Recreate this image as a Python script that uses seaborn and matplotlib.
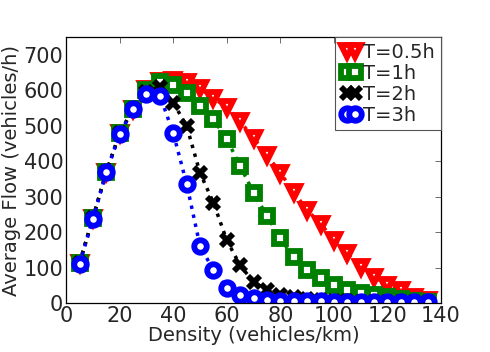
import numpy as np
import pandas as pd
import matplotlib
matplotlib.use("Agg")
import matplotlib.pyplot as plt
import seaborn as sns

# ---- data ----
density = [5, 10, 15, 20, 25, 30, 35, 40, 45, 50, 55, 60, 65, 70,
           75, 80, 85, 90, 95, 100, 105, 110, 115, 120, 125, 130, 135]

flow_05h = [113, 240, 370, 478, 548, 602, 625, 630, 622, 605, 577, 552, 512, 465,
            418, 367, 313, 262, 224, 178, 140, 103, 74, 50, 36, 18, 8]
flow_1h = [113, 240, 370, 478, 548, 600, 622, 615, 591, 555, 518, 462, 386, 311,
           246, 182, 129, 93, 70, 50, 37, 28, 22, 16, 11, 7, 4]
flow_2h = [113, 240, 370, 478, 547, 595, 610, 565, 499, 367, 283, 177, 106, 59,
           37, 24, 16, 11, 8, 6, 5, 4, 4, 3, 3, 3, 3]
flow_3h = [110, 237, 368, 477, 546, 590, 585, 479, 336, 161, 93, 43, 24, 15,
           10, 7, 6, 5, 5, 4, 4, 4, 4, 3, 3, 3, 3]

labels = ["T=0.5h", "T=1h", "T=2h", "T=3h"]
colors = ["red", "green", "black", "blue"]
markers = ["v", "s", "x", "o"]

df = pd.DataFrame({
    "density": density * 4,
    "flow": flow_05h + flow_1h + flow_2h + flow_3h,
    "series": sum([[lab] * len(density) for lab in labels], []),
})

sns.set_style("white")
plt.rcParams["font.family"] = ["DejaVu Sans"]

fig = plt.figure(figsize=(4.9, 3.52), dpi=100)
ax = fig.add_axes([0.135, 0.139, 0.765, 0.756])

for lab, col, mk in zip(labels, colors, markers):
    sub = df[df["series"] == lab]
    face = col if mk == "x" else "white"
    sns.lineplot(data=sub, x="density", y="flow", ax=ax, color=col,
                 linestyle=":", linewidth=2.5, marker=mk, markersize=9,
                 markeredgewidth=4.2, markerfacecolor=face,
                 markeredgecolor=col, label=lab)

ax.set_xlim(0, 140)
ax.set_ylim(0, 750)
ax.set_xticks(range(0, 141, 20))
ax.set_yticks(range(0, 701, 100))
ax.tick_params(direction="in", top=True, right=True, labelsize=15,
               length=4, width=0.6, color="#555555", pad=2)
for sp in ax.spines.values():
    sp.set_color("black")
    sp.set_linewidth(0.9)

ax.set_xlabel("Density (vehicles/km)", fontsize=14, labelpad=0)
ax.set_ylabel("Average Flow (vehicles/h)", fontsize=14, labelpad=2)

leg = ax.legend(loc="upper right", numpoints=2, handlelength=1.0,
                handletextpad=0.15, borderaxespad=0, fontsize=14,
                fancybox=False, framealpha=1, borderpad=0.3,
                labelspacing=0.1, markerscale=1.0)
leg.get_frame().set_edgecolor("#555555")
leg.get_frame().set_linewidth(0.8)
for h in leg.get_lines():
    h.set_linestyle("none")

fig.savefig("out.png", dpi=100)
